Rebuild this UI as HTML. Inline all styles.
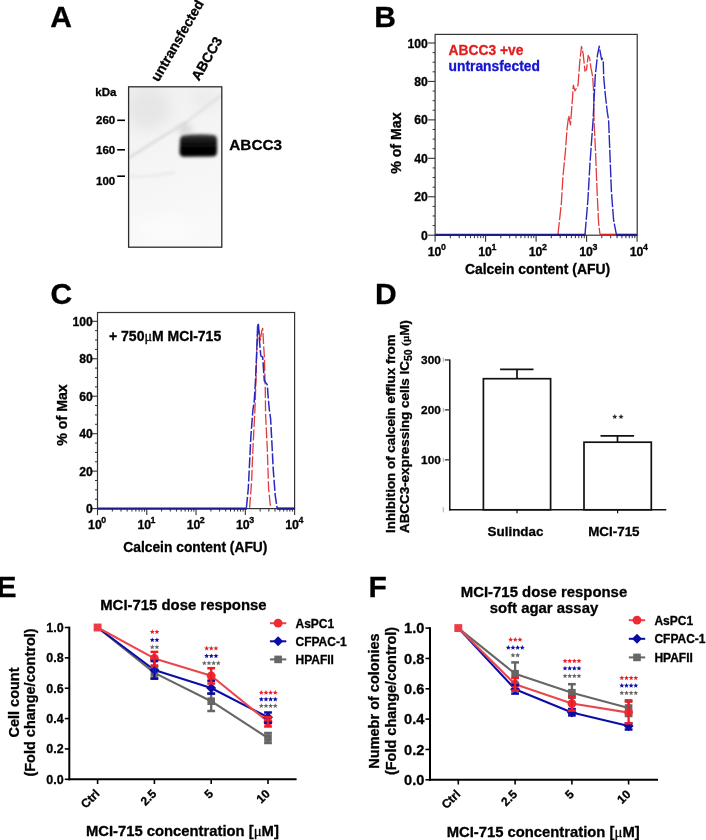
<!DOCTYPE html>
<html><head><meta charset="utf-8"><title>Figure</title>
<style>
html,body{margin:0;padding:0;background:#fff;width:706px;height:840px;overflow:hidden;}
svg{display:block;font-family:"Liberation Sans", sans-serif;will-change:transform;}
</style></head><body>
<svg width="706" height="840" viewBox="0 0 706 840">
<rect width="706" height="840" fill="#fff"/>
<text stroke="#000" stroke-width="0.3" x="50.30" y="27.20" font-size="30" text-anchor="start" fill="#000" font-weight="bold" >A</text>
<text stroke="#000" stroke-width="0.3" x="374.30" y="27.00" font-size="30" text-anchor="start" fill="#000" font-weight="bold" >B</text>
<text stroke="#000" stroke-width="0.3" x="50.50" y="304.30" font-size="30" text-anchor="start" fill="#000" font-weight="bold" >C</text>
<text stroke="#000" stroke-width="0.3" x="375.00" y="303.90" font-size="30" text-anchor="start" fill="#000" font-weight="bold" >D</text>
<text stroke="#000" stroke-width="0.3" x="-3.60" y="597.20" font-size="30" text-anchor="start" fill="#000" font-weight="bold" >E</text>
<text stroke="#000" stroke-width="0.3" x="368.50" y="597.00" font-size="30" text-anchor="start" fill="#000" font-weight="bold" >F</text>
<defs>
<filter id="blur1" x="-30%" y="-30%" width="160%" height="160%"><feGaussianBlur stdDeviation="1.4"/></filter>
<filter id="blur2" x="-50%" y="-50%" width="200%" height="200%"><feGaussianBlur stdDeviation="2"/></filter>
<filter id="blur3" x="-50%" y="-50%" width="200%" height="200%"><feGaussianBlur stdDeviation="3"/></filter>
<filter id="blur6" x="-50%" y="-50%" width="200%" height="200%"><feGaussianBlur stdDeviation="7"/></filter>
<linearGradient id="blotbg" x1="0" y1="0" x2="0.25" y2="1">
<stop offset="0" stop-color="#f0f0f0"/><stop offset="0.4" stop-color="#f4f4f4"/><stop offset="1" stop-color="#f9f9f9"/>
</linearGradient>
<linearGradient id="band" x1="0" y1="0" x2="0" y2="1">
<stop offset="0" stop-color="#454545"/><stop offset="0.22" stop-color="#1c1c1c"/><stop offset="0.5" stop-color="#070707"/><stop offset="1" stop-color="#020202"/>
</linearGradient>
<clipPath id="blotclip"><rect x="129" y="87" width="92.5" height="160"/></clipPath>
</defs>
<rect x="128.6" y="86.8" width="93.2" height="160.4" fill="url(#blotbg)"/>
<g clip-path="url(#blotclip)">
<ellipse cx="148" cy="108" rx="22" ry="22" fill="#e6e6e6" filter="url(#blur6)"/>
<ellipse cx="205" cy="100" rx="14" ry="10" fill="#ebebeb" filter="url(#blur6)"/>
<ellipse cx="165" cy="230" rx="30" ry="14" fill="#fbfbfb" filter="url(#blur6)"/>
<path d="M127,159 C145,148 165,134 186,123" stroke="#cfcfcf" stroke-width="1.8" fill="none" filter="url(#blur1)"/>
<path d="M184,124 C195,116 207,105 222,95" stroke="#dcdcdc" stroke-width="2" fill="none" filter="url(#blur1)"/>
<ellipse cx="185" cy="129" rx="7" ry="5" fill="#d6d6d6" filter="url(#blur3)"/>
<path d="M129,176 C145,178 160,175 175,172" stroke="#e4e4e4" stroke-width="2" fill="none" filter="url(#blur1)"/>
<path d="M183,135.5 Q198,133.5 214,135 Q217,136 217,140 L217,152 Q217,156.5 212,156.5 L184,156.8 Q179.5,156.8 179.5,152 L180,140 Q180.5,136 183,135.5 Z" fill="url(#band)" filter="url(#blur1)"/>
</g>
<rect x="128.6" y="86.8" width="93.2" height="160.4" fill="none" stroke="#2b2b2b" stroke-width="1.3"/>
<text stroke="#000" stroke-width="0.3" x="95.30" y="96.30" font-size="11.5" text-anchor="start" fill="#000" font-weight="bold" >kDa</text>
<text stroke="#000" stroke-width="0.3" x="115.20" y="124.30" font-size="11.5" text-anchor="end" fill="#000" font-weight="bold" >260</text>
<line x1="117.20" y1="120.30" x2="125.00" y2="120.30" stroke="#000" stroke-width="1.6" />
<text stroke="#000" stroke-width="0.3" x="115.20" y="153.80" font-size="11.5" text-anchor="end" fill="#000" font-weight="bold" >160</text>
<line x1="117.20" y1="149.80" x2="125.00" y2="149.80" stroke="#000" stroke-width="1.6" />
<text stroke="#000" stroke-width="0.3" x="115.20" y="185.00" font-size="11.5" text-anchor="end" fill="#000" font-weight="bold" >100</text>
<line x1="117.20" y1="176.20" x2="125.00" y2="176.20" stroke="#000" stroke-width="1.6" />
<text stroke="#000" stroke-width="0.3" x="229.30" y="149.80" font-size="15.3" text-anchor="start" fill="#000" font-weight="bold" >ABCC3</text>
<text stroke="#000" stroke-width="0.3" font-size="13.8" font-weight="bold" fill="#000" transform="translate(158.5,82.5) rotate(-60)">untransfected</text>
<text stroke="#000" stroke-width="0.3" font-size="13.8" font-weight="bold" fill="#000" transform="translate(199,81.5) rotate(-60)">ABCC3</text>
<rect x="435.10" y="34.40" width="202.10" height="200.80" fill="none" stroke="#333" stroke-width="1.2"/>
<line x1="428.10" y1="235.20" x2="435.10" y2="235.20" stroke="#333" stroke-width="1.1" />
<text stroke="#000" stroke-width="0.3" x="427.80" y="239.80" font-size="12.2" text-anchor="end" fill="#000" font-weight="bold" >0</text>
<line x1="432.60" y1="225.59" x2="435.10" y2="225.59" stroke="#333" stroke-width="1" />
<line x1="432.60" y1="215.98" x2="435.10" y2="215.98" stroke="#333" stroke-width="1" />
<line x1="432.60" y1="206.37" x2="435.10" y2="206.37" stroke="#333" stroke-width="1" />
<line x1="428.10" y1="196.76" x2="435.10" y2="196.76" stroke="#333" stroke-width="1.1" />
<text stroke="#000" stroke-width="0.3" x="427.80" y="201.36" font-size="12.2" text-anchor="end" fill="#000" font-weight="bold" >20</text>
<line x1="432.60" y1="187.15" x2="435.10" y2="187.15" stroke="#333" stroke-width="1" />
<line x1="432.60" y1="177.54" x2="435.10" y2="177.54" stroke="#333" stroke-width="1" />
<line x1="432.60" y1="167.93" x2="435.10" y2="167.93" stroke="#333" stroke-width="1" />
<line x1="428.10" y1="158.32" x2="435.10" y2="158.32" stroke="#333" stroke-width="1.1" />
<text stroke="#000" stroke-width="0.3" x="427.80" y="162.92" font-size="12.2" text-anchor="end" fill="#000" font-weight="bold" >40</text>
<line x1="432.60" y1="148.71" x2="435.10" y2="148.71" stroke="#333" stroke-width="1" />
<line x1="432.60" y1="139.10" x2="435.10" y2="139.10" stroke="#333" stroke-width="1" />
<line x1="432.60" y1="129.49" x2="435.10" y2="129.49" stroke="#333" stroke-width="1" />
<line x1="428.10" y1="119.88" x2="435.10" y2="119.88" stroke="#333" stroke-width="1.1" />
<text stroke="#000" stroke-width="0.3" x="427.80" y="124.48" font-size="12.2" text-anchor="end" fill="#000" font-weight="bold" >60</text>
<line x1="432.60" y1="110.27" x2="435.10" y2="110.27" stroke="#333" stroke-width="1" />
<line x1="432.60" y1="100.66" x2="435.10" y2="100.66" stroke="#333" stroke-width="1" />
<line x1="432.60" y1="91.05" x2="435.10" y2="91.05" stroke="#333" stroke-width="1" />
<line x1="428.10" y1="81.44" x2="435.10" y2="81.44" stroke="#333" stroke-width="1.1" />
<text stroke="#000" stroke-width="0.3" x="427.80" y="86.04" font-size="12.2" text-anchor="end" fill="#000" font-weight="bold" >80</text>
<line x1="432.60" y1="71.83" x2="435.10" y2="71.83" stroke="#333" stroke-width="1" />
<line x1="432.60" y1="62.22" x2="435.10" y2="62.22" stroke="#333" stroke-width="1" />
<line x1="432.60" y1="52.61" x2="435.10" y2="52.61" stroke="#333" stroke-width="1" />
<line x1="428.10" y1="43.00" x2="435.10" y2="43.00" stroke="#333" stroke-width="1.1" />
<text stroke="#000" stroke-width="0.3" x="427.80" y="47.60" font-size="12.2" text-anchor="end" fill="#000" font-weight="bold" >100</text>
<line x1="435.10" y1="235.20" x2="435.10" y2="241.70" stroke="#333" stroke-width="1.1" />
<text stroke="#000" stroke-width="0.3" x="427.70" y="255.80" font-size="12.3" text-anchor="start" fill="#000" font-weight="bold" >10</text>
<text stroke="#000" stroke-width="0.3" x="440.90" y="249.80" font-size="8.8" text-anchor="start" fill="#000" font-weight="bold" >0</text>
<line x1="450.30" y1="235.20" x2="450.30" y2="238.20" stroke="#333" stroke-width="1" />
<line x1="459.19" y1="235.20" x2="459.19" y2="238.20" stroke="#333" stroke-width="1" />
<line x1="465.50" y1="235.20" x2="465.50" y2="238.20" stroke="#333" stroke-width="1" />
<line x1="470.40" y1="235.20" x2="470.40" y2="238.20" stroke="#333" stroke-width="1" />
<line x1="474.40" y1="235.20" x2="474.40" y2="238.20" stroke="#333" stroke-width="1" />
<line x1="477.78" y1="235.20" x2="477.78" y2="238.20" stroke="#333" stroke-width="1" />
<line x1="480.71" y1="235.20" x2="480.71" y2="238.20" stroke="#333" stroke-width="1" />
<line x1="483.29" y1="235.20" x2="483.29" y2="238.20" stroke="#333" stroke-width="1" />
<line x1="485.60" y1="235.20" x2="485.60" y2="241.70" stroke="#333" stroke-width="1.1" />
<text stroke="#000" stroke-width="0.3" x="478.20" y="255.80" font-size="12.3" text-anchor="start" fill="#000" font-weight="bold" >10</text>
<text stroke="#000" stroke-width="0.3" x="491.40" y="249.80" font-size="8.8" text-anchor="start" fill="#000" font-weight="bold" >1</text>
<line x1="500.80" y1="235.20" x2="500.80" y2="238.20" stroke="#333" stroke-width="1" />
<line x1="509.69" y1="235.20" x2="509.69" y2="238.20" stroke="#333" stroke-width="1" />
<line x1="516.00" y1="235.20" x2="516.00" y2="238.20" stroke="#333" stroke-width="1" />
<line x1="520.90" y1="235.20" x2="520.90" y2="238.20" stroke="#333" stroke-width="1" />
<line x1="524.90" y1="235.20" x2="524.90" y2="238.20" stroke="#333" stroke-width="1" />
<line x1="528.28" y1="235.20" x2="528.28" y2="238.20" stroke="#333" stroke-width="1" />
<line x1="531.21" y1="235.20" x2="531.21" y2="238.20" stroke="#333" stroke-width="1" />
<line x1="533.79" y1="235.20" x2="533.79" y2="238.20" stroke="#333" stroke-width="1" />
<line x1="536.10" y1="235.20" x2="536.10" y2="241.70" stroke="#333" stroke-width="1.1" />
<text stroke="#000" stroke-width="0.3" x="528.70" y="255.80" font-size="12.3" text-anchor="start" fill="#000" font-weight="bold" >10</text>
<text stroke="#000" stroke-width="0.3" x="541.90" y="249.80" font-size="8.8" text-anchor="start" fill="#000" font-weight="bold" >2</text>
<line x1="551.30" y1="235.20" x2="551.30" y2="238.20" stroke="#333" stroke-width="1" />
<line x1="560.19" y1="235.20" x2="560.19" y2="238.20" stroke="#333" stroke-width="1" />
<line x1="566.50" y1="235.20" x2="566.50" y2="238.20" stroke="#333" stroke-width="1" />
<line x1="571.40" y1="235.20" x2="571.40" y2="238.20" stroke="#333" stroke-width="1" />
<line x1="575.40" y1="235.20" x2="575.40" y2="238.20" stroke="#333" stroke-width="1" />
<line x1="578.78" y1="235.20" x2="578.78" y2="238.20" stroke="#333" stroke-width="1" />
<line x1="581.71" y1="235.20" x2="581.71" y2="238.20" stroke="#333" stroke-width="1" />
<line x1="584.29" y1="235.20" x2="584.29" y2="238.20" stroke="#333" stroke-width="1" />
<line x1="586.60" y1="235.20" x2="586.60" y2="241.70" stroke="#333" stroke-width="1.1" />
<text stroke="#000" stroke-width="0.3" x="579.20" y="255.80" font-size="12.3" text-anchor="start" fill="#000" font-weight="bold" >10</text>
<text stroke="#000" stroke-width="0.3" x="592.40" y="249.80" font-size="8.8" text-anchor="start" fill="#000" font-weight="bold" >3</text>
<line x1="601.80" y1="235.20" x2="601.80" y2="238.20" stroke="#333" stroke-width="1" />
<line x1="610.69" y1="235.20" x2="610.69" y2="238.20" stroke="#333" stroke-width="1" />
<line x1="617.00" y1="235.20" x2="617.00" y2="238.20" stroke="#333" stroke-width="1" />
<line x1="621.90" y1="235.20" x2="621.90" y2="238.20" stroke="#333" stroke-width="1" />
<line x1="625.90" y1="235.20" x2="625.90" y2="238.20" stroke="#333" stroke-width="1" />
<line x1="629.28" y1="235.20" x2="629.28" y2="238.20" stroke="#333" stroke-width="1" />
<line x1="632.21" y1="235.20" x2="632.21" y2="238.20" stroke="#333" stroke-width="1" />
<line x1="634.79" y1="235.20" x2="634.79" y2="238.20" stroke="#333" stroke-width="1" />
<line x1="637.10" y1="235.20" x2="637.10" y2="241.70" stroke="#333" stroke-width="1.1" />
<text stroke="#000" stroke-width="0.3" x="629.70" y="255.80" font-size="12.3" text-anchor="start" fill="#000" font-weight="bold" >10</text>
<text stroke="#000" stroke-width="0.3" x="642.90" y="249.80" font-size="8.8" text-anchor="start" fill="#000" font-weight="bold" >4</text>
<text stroke="#000" stroke-width="0.3" x="465.00" y="274.30" font-size="13.9" text-anchor="start" fill="#000" font-weight="bold" >Calcein content (AFU)</text>
<text stroke="#000" stroke-width="0.3" font-size="14.2" font-weight="bold" text-anchor="middle" transform="translate(401.2,143.1) rotate(-90)">% of Max</text>
<line x1="600.00" y1="234.70" x2="616.40" y2="234.70" stroke="#d02828" stroke-width="2.0" />
<polyline points="557.90,235.00 561.40,202.90 562.90,177.00 565.40,151.40 567.10,128.00 568.80,115.70 570.50,124.90 572.60,96.60 573.30,85.20 575.00,90.90 578.00,85.20 579.70,62.60 581.50,46.30 583.20,54.10 585.00,71.10 586.50,69.70 588.20,55.50 589.60,58.30 591.00,68.20 592.70,76.70 593.50,89.50 594.00,120.00 595.40,148.60 597.10,191.40 598.60,222.90 600.00,234.60" fill="none" stroke="#e43a3a" stroke-width="1.3" stroke-dasharray="13 2" stroke-linejoin="round"/>
<polyline points="585.00,234.60 587.90,200.00 590.00,162.90 593.10,120.00 595.20,76.70 596.70,62.60 597.40,55.50 599.20,46.30 600.60,54.10 601.60,59.70 602.30,58.30 603.30,62.60 603.70,76.70 605.20,93.70 607.30,112.20 608.60,120.00 610.00,155.70 611.40,191.40 613.60,220.00 616.40,234.60" fill="none" stroke="#2828c0" stroke-width="1.4" stroke-dasharray="13 1.8" stroke-linejoin="round"/>
<line x1="435.10" y1="234.90" x2="585.50" y2="234.90" stroke="#1c1c8c" stroke-width="2.4" />
<line x1="616.00" y1="234.90" x2="637.20" y2="234.90" stroke="#1c1c8c" stroke-width="2.4" />
<text stroke="#e01e1e" stroke-width="0.3" x="448.60" y="55.20" font-size="13.8" text-anchor="start" fill="#e01e1e" font-weight="bold" >ABCC3 +ve</text>
<text stroke="#1414d2" stroke-width="0.3" x="448.60" y="71.00" font-size="13.8" text-anchor="start" fill="#1414d2" font-weight="bold" >untransfected</text>
<rect x="97.50" y="312.50" width="197.10" height="196.10" fill="none" stroke="#333" stroke-width="1.2"/>
<line x1="90.50" y1="508.60" x2="97.50" y2="508.60" stroke="#333" stroke-width="1.1" />
<text stroke="#000" stroke-width="0.3" x="92.80" y="513.20" font-size="12.2" text-anchor="end" fill="#000" font-weight="bold" >0</text>
<line x1="95.00" y1="499.24" x2="97.50" y2="499.24" stroke="#333" stroke-width="1" />
<line x1="95.00" y1="489.87" x2="97.50" y2="489.87" stroke="#333" stroke-width="1" />
<line x1="95.00" y1="480.50" x2="97.50" y2="480.50" stroke="#333" stroke-width="1" />
<line x1="90.50" y1="471.14" x2="97.50" y2="471.14" stroke="#333" stroke-width="1.1" />
<text stroke="#000" stroke-width="0.3" x="92.80" y="475.74" font-size="12.2" text-anchor="end" fill="#000" font-weight="bold" >20</text>
<line x1="95.00" y1="461.78" x2="97.50" y2="461.78" stroke="#333" stroke-width="1" />
<line x1="95.00" y1="452.41" x2="97.50" y2="452.41" stroke="#333" stroke-width="1" />
<line x1="95.00" y1="443.05" x2="97.50" y2="443.05" stroke="#333" stroke-width="1" />
<line x1="90.50" y1="433.68" x2="97.50" y2="433.68" stroke="#333" stroke-width="1.1" />
<text stroke="#000" stroke-width="0.3" x="92.80" y="438.28" font-size="12.2" text-anchor="end" fill="#000" font-weight="bold" >40</text>
<line x1="95.00" y1="424.31" x2="97.50" y2="424.31" stroke="#333" stroke-width="1" />
<line x1="95.00" y1="414.95" x2="97.50" y2="414.95" stroke="#333" stroke-width="1" />
<line x1="95.00" y1="405.59" x2="97.50" y2="405.59" stroke="#333" stroke-width="1" />
<line x1="90.50" y1="396.22" x2="97.50" y2="396.22" stroke="#333" stroke-width="1.1" />
<text stroke="#000" stroke-width="0.3" x="92.80" y="400.82" font-size="12.2" text-anchor="end" fill="#000" font-weight="bold" >60</text>
<line x1="95.00" y1="386.86" x2="97.50" y2="386.86" stroke="#333" stroke-width="1" />
<line x1="95.00" y1="377.49" x2="97.50" y2="377.49" stroke="#333" stroke-width="1" />
<line x1="95.00" y1="368.12" x2="97.50" y2="368.12" stroke="#333" stroke-width="1" />
<line x1="90.50" y1="358.76" x2="97.50" y2="358.76" stroke="#333" stroke-width="1.1" />
<text stroke="#000" stroke-width="0.3" x="92.80" y="363.36" font-size="12.2" text-anchor="end" fill="#000" font-weight="bold" >80</text>
<line x1="95.00" y1="349.39" x2="97.50" y2="349.39" stroke="#333" stroke-width="1" />
<line x1="95.00" y1="340.03" x2="97.50" y2="340.03" stroke="#333" stroke-width="1" />
<line x1="95.00" y1="330.66" x2="97.50" y2="330.66" stroke="#333" stroke-width="1" />
<line x1="90.50" y1="321.30" x2="97.50" y2="321.30" stroke="#333" stroke-width="1.1" />
<text stroke="#000" stroke-width="0.3" x="92.80" y="325.90" font-size="12.2" text-anchor="end" fill="#000" font-weight="bold" >100</text>
<line x1="97.50" y1="508.60" x2="97.50" y2="515.10" stroke="#333" stroke-width="1.1" />
<text stroke="#000" stroke-width="0.3" x="88.10" y="529.20" font-size="12.3" text-anchor="start" fill="#000" font-weight="bold" >10</text>
<text stroke="#000" stroke-width="0.3" x="101.30" y="523.20" font-size="8.8" text-anchor="start" fill="#000" font-weight="bold" >0</text>
<line x1="112.33" y1="508.60" x2="112.33" y2="511.60" stroke="#333" stroke-width="1" />
<line x1="121.01" y1="508.60" x2="121.01" y2="511.60" stroke="#333" stroke-width="1" />
<line x1="127.17" y1="508.60" x2="127.17" y2="511.60" stroke="#333" stroke-width="1" />
<line x1="131.95" y1="508.60" x2="131.95" y2="511.60" stroke="#333" stroke-width="1" />
<line x1="135.85" y1="508.60" x2="135.85" y2="511.60" stroke="#333" stroke-width="1" />
<line x1="139.15" y1="508.60" x2="139.15" y2="511.60" stroke="#333" stroke-width="1" />
<line x1="142.00" y1="508.60" x2="142.00" y2="511.60" stroke="#333" stroke-width="1" />
<line x1="144.53" y1="508.60" x2="144.53" y2="511.60" stroke="#333" stroke-width="1" />
<line x1="146.78" y1="508.60" x2="146.78" y2="515.10" stroke="#333" stroke-width="1.1" />
<text stroke="#000" stroke-width="0.3" x="137.38" y="529.20" font-size="12.3" text-anchor="start" fill="#000" font-weight="bold" >10</text>
<text stroke="#000" stroke-width="0.3" x="150.58" y="523.20" font-size="8.8" text-anchor="start" fill="#000" font-weight="bold" >1</text>
<line x1="161.61" y1="508.60" x2="161.61" y2="511.60" stroke="#333" stroke-width="1" />
<line x1="170.29" y1="508.60" x2="170.29" y2="511.60" stroke="#333" stroke-width="1" />
<line x1="176.45" y1="508.60" x2="176.45" y2="511.60" stroke="#333" stroke-width="1" />
<line x1="181.23" y1="508.60" x2="181.23" y2="511.60" stroke="#333" stroke-width="1" />
<line x1="185.13" y1="508.60" x2="185.13" y2="511.60" stroke="#333" stroke-width="1" />
<line x1="188.43" y1="508.60" x2="188.43" y2="511.60" stroke="#333" stroke-width="1" />
<line x1="191.28" y1="508.60" x2="191.28" y2="511.60" stroke="#333" stroke-width="1" />
<line x1="193.81" y1="508.60" x2="193.81" y2="511.60" stroke="#333" stroke-width="1" />
<line x1="196.06" y1="508.60" x2="196.06" y2="515.10" stroke="#333" stroke-width="1.1" />
<text stroke="#000" stroke-width="0.3" x="186.66" y="529.20" font-size="12.3" text-anchor="start" fill="#000" font-weight="bold" >10</text>
<text stroke="#000" stroke-width="0.3" x="199.86" y="523.20" font-size="8.8" text-anchor="start" fill="#000" font-weight="bold" >2</text>
<line x1="210.89" y1="508.60" x2="210.89" y2="511.60" stroke="#333" stroke-width="1" />
<line x1="219.57" y1="508.60" x2="219.57" y2="511.60" stroke="#333" stroke-width="1" />
<line x1="225.73" y1="508.60" x2="225.73" y2="511.60" stroke="#333" stroke-width="1" />
<line x1="230.51" y1="508.60" x2="230.51" y2="511.60" stroke="#333" stroke-width="1" />
<line x1="234.41" y1="508.60" x2="234.41" y2="511.60" stroke="#333" stroke-width="1" />
<line x1="237.71" y1="508.60" x2="237.71" y2="511.60" stroke="#333" stroke-width="1" />
<line x1="240.56" y1="508.60" x2="240.56" y2="511.60" stroke="#333" stroke-width="1" />
<line x1="243.09" y1="508.60" x2="243.09" y2="511.60" stroke="#333" stroke-width="1" />
<line x1="245.34" y1="508.60" x2="245.34" y2="515.10" stroke="#333" stroke-width="1.1" />
<text stroke="#000" stroke-width="0.3" x="235.94" y="529.20" font-size="12.3" text-anchor="start" fill="#000" font-weight="bold" >10</text>
<text stroke="#000" stroke-width="0.3" x="249.14" y="523.20" font-size="8.8" text-anchor="start" fill="#000" font-weight="bold" >3</text>
<line x1="260.17" y1="508.60" x2="260.17" y2="511.60" stroke="#333" stroke-width="1" />
<line x1="268.85" y1="508.60" x2="268.85" y2="511.60" stroke="#333" stroke-width="1" />
<line x1="275.01" y1="508.60" x2="275.01" y2="511.60" stroke="#333" stroke-width="1" />
<line x1="279.79" y1="508.60" x2="279.79" y2="511.60" stroke="#333" stroke-width="1" />
<line x1="283.69" y1="508.60" x2="283.69" y2="511.60" stroke="#333" stroke-width="1" />
<line x1="286.99" y1="508.60" x2="286.99" y2="511.60" stroke="#333" stroke-width="1" />
<line x1="289.84" y1="508.60" x2="289.84" y2="511.60" stroke="#333" stroke-width="1" />
<line x1="292.37" y1="508.60" x2="292.37" y2="511.60" stroke="#333" stroke-width="1" />
<line x1="294.62" y1="508.60" x2="294.62" y2="515.10" stroke="#333" stroke-width="1.1" />
<text stroke="#000" stroke-width="0.3" x="285.22" y="529.20" font-size="12.3" text-anchor="start" fill="#000" font-weight="bold" >10</text>
<text stroke="#000" stroke-width="0.3" x="298.42" y="523.20" font-size="8.8" text-anchor="start" fill="#000" font-weight="bold" >4</text>
<text stroke="#000" stroke-width="0.3" x="123.30" y="551.50" font-size="13.8" text-anchor="start" fill="#000" font-weight="bold" >Calcein content (AFU)</text>
<text stroke="#000" stroke-width="0.3" font-size="14.2" font-weight="bold" text-anchor="middle" transform="translate(66.8,415) rotate(-90)">% of Max</text>
<polyline points="249.60,507.80 251.60,482.00 252.90,449.30 254.90,410.00 256.00,380.00 256.80,349.30 258.10,324.40 259.50,335.00 260.50,340.00 261.50,332.00 262.70,328.30 263.80,348.00 264.30,355.80 264.70,367.60 265.30,391.20 265.60,414.70 267.30,449.30 268.60,488.50 270.60,507.80" fill="none" stroke="#e43a3a" stroke-width="1.3" stroke-dasharray="11 2.5" stroke-linejoin="round"/>
<polyline points="246.40,507.80 248.30,488.50 249.60,462.40 250.90,436.20 252.90,410.00 254.20,401.60 255.50,380.70 256.80,349.30 257.70,323.70 258.50,325.00 259.50,341.40 260.80,355.80 262.70,357.10 264.30,380.70 267.30,384.60 268.00,395.00 269.30,409.50 270.60,418.60 271.90,442.70 273.20,468.90 275.20,495.10 277.10,507.80" fill="none" stroke="#2828c0" stroke-width="1.5" stroke-dasharray="11 2.2" stroke-linejoin="round"/>
<line x1="97.50" y1="508.60" x2="246.80" y2="508.60" stroke="#1c1c8c" stroke-width="2.4" />
<line x1="276.80" y1="508.60" x2="294.60" y2="508.60" stroke="#1c1c8c" stroke-width="2.4" />
<text stroke="#000" stroke-width="0.3" x="109.00" y="340.80" font-size="14" text-anchor="start" fill="#000" font-weight="bold" >+ 750<tspan font-family="Liberation Serif" font-weight="normal">μ</tspan>M MCI-715</text>
<line x1="449.80" y1="359.50" x2="449.80" y2="510.50" stroke="#111" stroke-width="1.5" />
<line x1="449.10" y1="509.80" x2="666.30" y2="509.80" stroke="#111" stroke-width="1.5" />
<line x1="444.80" y1="459.85" x2="449.80" y2="459.85" stroke="#333" stroke-width="1.3" />
<text stroke="#000" stroke-width="0.3" x="440.80" y="464.15" font-size="11.8" text-anchor="end" fill="#000" font-weight="bold" >100</text>
<line x1="443.30" y1="457.65" x2="443.30" y2="462.05" stroke="#999" stroke-width="0.8" />
<line x1="444.80" y1="409.90" x2="449.80" y2="409.90" stroke="#333" stroke-width="1.3" />
<text stroke="#000" stroke-width="0.3" x="440.80" y="414.20" font-size="11.8" text-anchor="end" fill="#000" font-weight="bold" >200</text>
<line x1="443.30" y1="407.70" x2="443.30" y2="412.10" stroke="#999" stroke-width="0.8" />
<line x1="444.80" y1="359.95" x2="449.80" y2="359.95" stroke="#333" stroke-width="1.3" />
<text stroke="#000" stroke-width="0.3" x="440.80" y="364.25" font-size="11.8" text-anchor="end" fill="#000" font-weight="bold" >300</text>
<line x1="443.30" y1="357.75" x2="443.30" y2="362.15" stroke="#999" stroke-width="0.8" />
<line x1="443.30" y1="507.20" x2="443.30" y2="512.40" stroke="#999" stroke-width="0.8" />
<rect x="483.4" y="378.7" width="67.2" height="131.10" fill="#fff" stroke="#111" stroke-width="1.7"/>
<rect x="584" y="442.2" width="67.3" height="67.60" fill="#fff" stroke="#111" stroke-width="1.7"/>
<line x1="517.00" y1="369.30" x2="517.00" y2="378.70" stroke="#111" stroke-width="1.7" />
<line x1="500.10" y1="369.30" x2="533.50" y2="369.30" stroke="#111" stroke-width="1.8" />
<line x1="617.50" y1="435.80" x2="617.50" y2="442.20" stroke="#111" stroke-width="1.7" />
<line x1="600.50" y1="435.80" x2="634.10" y2="435.80" stroke="#111" stroke-width="1.8" />
<line x1="517.00" y1="509.80" x2="517.00" y2="513.30" stroke="#111" stroke-width="1.2" />
<line x1="617.60" y1="509.80" x2="617.60" y2="513.30" stroke="#111" stroke-width="1.2" />
<polygon points="614.75,414.10 615.46,415.82 617.32,415.97 615.91,417.18 616.34,418.98 614.75,418.01 613.16,418.98 613.59,417.18 612.18,415.97 614.04,415.82" fill="#2a2a2a"/>
<polygon points="621.05,414.10 621.76,415.82 623.62,415.97 622.21,417.18 622.64,418.98 621.05,418.01 619.46,418.98 619.89,417.18 618.48,415.97 620.34,415.82" fill="#2a2a2a"/>
<text stroke="#000" stroke-width="0.3" x="487.60" y="535.80" font-size="13.4" text-anchor="start" fill="#000" font-weight="bold" >Sulindac</text>
<text stroke="#000" stroke-width="0.3" x="588.20" y="535.80" font-size="13.4" text-anchor="start" fill="#000" font-weight="bold" >MCI-715</text>
<text stroke="#000" stroke-width="0.3" font-size="13.4" font-weight="bold" transform="translate(394.6,533) rotate(-90)">Inhibition of calcein efflux from</text>
<text stroke="#000" stroke-width="0.3" font-size="13.4" font-weight="bold" transform="translate(408.6,533) rotate(-90)">ABCC3-expressing cells IC<tspan font-size="10.5" dy="3.3">50</tspan><tspan dy="-3.3"> </tspan><tspan font-size="11" font-family="Liberation Serif">(μ</tspan>M)</text>
<line x1="69.30" y1="626.70" x2="69.30" y2="780.30" stroke="#000" stroke-width="2" />
<line x1="68.30" y1="779.30" x2="296.60" y2="779.30" stroke="#000" stroke-width="2" />
<line x1="64.80" y1="779.30" x2="69.30" y2="779.30" stroke="#000" stroke-width="1.6" />
<text stroke="#000" stroke-width="0.3" x="63.70" y="783.80" font-size="12.5" text-anchor="end" fill="#000" font-weight="bold" >0.0</text>
<line x1="64.80" y1="748.94" x2="69.30" y2="748.94" stroke="#000" stroke-width="1.6" />
<text stroke="#000" stroke-width="0.3" x="63.70" y="753.44" font-size="12.5" text-anchor="end" fill="#000" font-weight="bold" >0.2</text>
<line x1="64.80" y1="718.58" x2="69.30" y2="718.58" stroke="#000" stroke-width="1.6" />
<text stroke="#000" stroke-width="0.3" x="63.70" y="723.08" font-size="12.5" text-anchor="end" fill="#000" font-weight="bold" >0.4</text>
<line x1="64.80" y1="688.22" x2="69.30" y2="688.22" stroke="#000" stroke-width="1.6" />
<text stroke="#000" stroke-width="0.3" x="63.70" y="692.72" font-size="12.5" text-anchor="end" fill="#000" font-weight="bold" >0.6</text>
<line x1="64.80" y1="657.86" x2="69.30" y2="657.86" stroke="#000" stroke-width="1.6" />
<text stroke="#000" stroke-width="0.3" x="63.70" y="662.36" font-size="12.5" text-anchor="end" fill="#000" font-weight="bold" >0.8</text>
<line x1="64.80" y1="627.50" x2="69.30" y2="627.50" stroke="#000" stroke-width="1.6" />
<text stroke="#000" stroke-width="0.3" x="63.70" y="632.00" font-size="12.5" text-anchor="end" fill="#000" font-weight="bold" >1.0</text>
<line x1="97.60" y1="779.30" x2="97.60" y2="784.00" stroke="#000" stroke-width="1.6" />
<line x1="154.40" y1="779.30" x2="154.40" y2="784.00" stroke="#000" stroke-width="1.6" />
<line x1="211.20" y1="779.30" x2="211.20" y2="784.00" stroke="#000" stroke-width="1.6" />
<line x1="268.00" y1="779.30" x2="268.00" y2="784.00" stroke="#000" stroke-width="1.6" />
<text stroke="#000" stroke-width="0.3" font-size="12" font-weight="bold" text-anchor="end" transform="translate(100.40,794.50) rotate(-45)">Ctrl</text>
<text stroke="#000" stroke-width="0.3" font-size="12" font-weight="bold" text-anchor="end" transform="translate(157.20,794.50) rotate(-45)">2.5</text>
<text stroke="#000" stroke-width="0.3" font-size="12" font-weight="bold" text-anchor="end" transform="translate(214.00,794.50) rotate(-45)">5</text>
<text stroke="#000" stroke-width="0.3" font-size="12" font-weight="bold" text-anchor="end" transform="translate(270.80,794.50) rotate(-45)">10</text>
<polyline points="97.60,627.50 154.40,672.90 211.20,701.20 268.00,738.00" fill="none" stroke="#666666" stroke-width="2.1" stroke-linejoin="round"/>
<polyline points="97.60,627.50 154.40,670.00 211.20,688.00 268.00,717.30" fill="none" stroke="#0c0ca6" stroke-width="2.1" stroke-linejoin="round"/>
<polyline points="97.60,627.50 154.40,658.40 211.20,675.80 268.00,721.80" fill="none" stroke="#e8474d" stroke-width="2.1" stroke-linejoin="round"/>
<rect x="150.60" y="669.10" width="7.60" height="7.60" fill="#666666"/>
<rect x="207.40" y="697.40" width="7.60" height="7.60" fill="#666666"/>
<rect x="264.20" y="734.20" width="7.60" height="7.60" fill="#666666"/>
<polygon points="154.40,665.00 159.40,670.00 154.40,675.00 149.40,670.00" fill="#0c0ca6"/>
<polygon points="211.20,683.00 216.20,688.00 211.20,693.00 206.20,688.00" fill="#0c0ca6"/>
<polygon points="268.00,712.30 273.00,717.30 268.00,722.30 263.00,717.30" fill="#0c0ca6"/>
<circle cx="154.40" cy="658.40" r="4.4" fill="#ee2a33"/>
<circle cx="211.20" cy="675.80" r="4.4" fill="#ee2a33"/>
<circle cx="268.00" cy="721.80" r="4.4" fill="#ee2a33"/>
<line x1="154.40" y1="667.00" x2="154.40" y2="678.00" stroke="#666666" stroke-width="2.3" />
<line x1="150.50" y1="667.00" x2="158.30" y2="667.00" stroke="#666666" stroke-width="2.5" />
<line x1="150.50" y1="678.00" x2="158.30" y2="678.00" stroke="#666666" stroke-width="2.5" />
<line x1="211.20" y1="693.60" x2="211.20" y2="711.00" stroke="#666666" stroke-width="2.3" />
<line x1="207.30" y1="693.60" x2="215.10" y2="693.60" stroke="#666666" stroke-width="2.5" />
<line x1="207.30" y1="711.00" x2="215.10" y2="711.00" stroke="#666666" stroke-width="2.5" />
<line x1="268.00" y1="733.00" x2="268.00" y2="743.00" stroke="#666666" stroke-width="2.3" />
<line x1="264.10" y1="733.00" x2="271.90" y2="733.00" stroke="#666666" stroke-width="2.5" />
<line x1="264.10" y1="743.00" x2="271.90" y2="743.00" stroke="#666666" stroke-width="2.5" />
<line x1="154.40" y1="661.00" x2="154.40" y2="678.70" stroke="#0c0ca6" stroke-width="2.3" />
<line x1="150.50" y1="661.00" x2="158.30" y2="661.00" stroke="#0c0ca6" stroke-width="2.5" />
<line x1="150.50" y1="678.70" x2="158.30" y2="678.70" stroke="#0c0ca6" stroke-width="2.5" />
<line x1="211.20" y1="680.70" x2="211.20" y2="693.60" stroke="#0c0ca6" stroke-width="2.3" />
<line x1="207.30" y1="680.70" x2="215.10" y2="680.70" stroke="#0c0ca6" stroke-width="2.5" />
<line x1="207.30" y1="693.60" x2="215.10" y2="693.60" stroke="#0c0ca6" stroke-width="2.5" />
<line x1="268.00" y1="712.50" x2="268.00" y2="722.70" stroke="#0c0ca6" stroke-width="2.3" />
<line x1="264.10" y1="712.50" x2="271.90" y2="712.50" stroke="#0c0ca6" stroke-width="2.5" />
<line x1="264.10" y1="722.70" x2="271.90" y2="722.70" stroke="#0c0ca6" stroke-width="2.5" />
<line x1="154.40" y1="651.90" x2="154.40" y2="665.50" stroke="#ef1c26" stroke-width="2.3" />
<line x1="150.50" y1="651.90" x2="158.30" y2="651.90" stroke="#ef1c26" stroke-width="2.5" />
<line x1="150.50" y1="665.50" x2="158.30" y2="665.50" stroke="#ef1c26" stroke-width="2.5" />
<line x1="211.20" y1="668.20" x2="211.20" y2="683.50" stroke="#ef1c26" stroke-width="2.3" />
<line x1="207.30" y1="668.20" x2="215.10" y2="668.20" stroke="#ef1c26" stroke-width="2.5" />
<line x1="207.30" y1="683.50" x2="215.10" y2="683.50" stroke="#ef1c26" stroke-width="2.5" />
<line x1="268.00" y1="717.00" x2="268.00" y2="726.50" stroke="#ef1c26" stroke-width="2.3" />
<line x1="264.10" y1="717.00" x2="271.90" y2="717.00" stroke="#ef1c26" stroke-width="2.5" />
<line x1="264.10" y1="726.50" x2="271.90" y2="726.50" stroke="#ef1c26" stroke-width="2.5" />
<rect x="93.65" y="623.55" width="7.9" height="7.9" fill="#ec3d46"/>
<line x1="269.90" y1="623.20" x2="286.30" y2="623.20" stroke="#e8474d" stroke-width="2" />
<circle cx="278.10" cy="623.20" r="4.4" fill="#ee2a33"/>
<text stroke="#000" stroke-width="0.3" x="295.50" y="627.50" font-size="12" text-anchor="start" fill="#000" font-weight="bold" >AsPC1</text>
<line x1="269.90" y1="641.30" x2="286.30" y2="641.30" stroke="#0c0ca6" stroke-width="2" />
<polygon points="278.10,636.30 283.10,641.30 278.10,646.30 273.10,641.30" fill="#0c0ca6"/>
<text stroke="#000" stroke-width="0.3" x="295.50" y="645.60" font-size="12" text-anchor="start" fill="#000" font-weight="bold" >CFPAC-1</text>
<line x1="269.90" y1="659.40" x2="286.30" y2="659.40" stroke="#666666" stroke-width="2" />
<rect x="274.30" y="655.60" width="7.60" height="7.60" fill="#666666"/>
<text stroke="#000" stroke-width="0.3" x="295.50" y="663.70" font-size="12" text-anchor="start" fill="#000" font-weight="bold" >HPAFII</text>
<text stroke="#000" stroke-width="0.3" x="183.40" y="609.60" font-size="14.9" text-anchor="middle" fill="#000" font-weight="bold" >MCI-715 dose response</text>
<text stroke="#000" stroke-width="0.3" x="182.40" y="836.40" font-size="14.8" text-anchor="middle" fill="#000" font-weight="bold" >MCI-715 concentration [<tspan font-family="Liberation Serif" font-weight="normal">μ</tspan>M]</text>
<text stroke="#000" stroke-width="0.3" font-size="14.5" font-weight="bold" text-anchor="middle" transform="translate(18.6,702.5) rotate(-90)">Cell count</text>
<text stroke="#000" stroke-width="0.3" font-size="14.5" font-weight="bold" text-anchor="middle" transform="translate(34.6,702.5) rotate(-90)">(Fold change/control)</text>
<polygon points="152.28,629.30 152.96,630.95 154.75,631.10 153.39,632.26 153.80,634.00 152.28,633.07 150.75,634.00 151.16,632.26 149.80,631.10 151.59,630.95" fill="#ef1c26"/>
<polygon points="156.93,629.30 157.61,630.95 159.40,631.10 158.04,632.26 158.45,634.00 156.93,633.07 155.40,634.00 155.81,632.26 154.45,631.10 156.24,630.95" fill="#ef1c26"/>
<polygon points="152.28,637.40 152.96,639.05 154.75,639.20 153.39,640.36 153.80,642.10 152.28,641.17 150.75,642.10 151.16,640.36 149.80,639.20 151.59,639.05" fill="#0c0ca6"/>
<polygon points="156.93,637.40 157.61,639.05 159.40,639.20 158.04,640.36 158.45,642.10 156.93,641.17 155.40,642.10 155.81,640.36 154.45,639.20 156.24,639.05" fill="#0c0ca6"/>
<polygon points="152.28,644.50 152.96,646.15 154.75,646.30 153.39,647.46 153.80,649.20 152.28,648.27 150.75,649.20 151.16,647.46 149.80,646.30 151.59,646.15" fill="#666666"/>
<polygon points="156.93,644.50 157.61,646.15 159.40,646.30 158.04,647.46 158.45,649.20 156.93,648.27 155.40,649.20 155.81,647.46 154.45,646.30 156.24,646.15" fill="#666666"/>
<polygon points="206.65,645.80 207.34,647.45 209.12,647.60 207.76,648.76 208.18,650.50 206.65,649.57 205.12,650.50 205.54,648.76 204.18,647.60 205.96,647.45" fill="#ef1c26"/>
<polygon points="211.30,645.80 211.99,647.45 213.77,647.60 212.41,648.76 212.83,650.50 211.30,649.57 209.77,650.50 210.19,648.76 208.83,647.60 210.61,647.45" fill="#ef1c26"/>
<polygon points="215.95,645.80 216.64,647.45 218.42,647.60 217.06,648.76 217.48,650.50 215.95,649.57 214.42,650.50 214.84,648.76 213.48,647.60 215.26,647.45" fill="#ef1c26"/>
<polygon points="206.65,653.40 207.34,655.05 209.12,655.20 207.76,656.36 208.18,658.10 206.65,657.17 205.12,658.10 205.54,656.36 204.18,655.20 205.96,655.05" fill="#0c0ca6"/>
<polygon points="211.30,653.40 211.99,655.05 213.77,655.20 212.41,656.36 212.83,658.10 211.30,657.17 209.77,658.10 210.19,656.36 208.83,655.20 210.61,655.05" fill="#0c0ca6"/>
<polygon points="215.95,653.40 216.64,655.05 218.42,655.20 217.06,656.36 217.48,658.10 215.95,657.17 214.42,658.10 214.84,656.36 213.48,655.20 215.26,655.05" fill="#0c0ca6"/>
<polygon points="204.33,660.60 205.01,662.25 206.80,662.40 205.44,663.56 205.85,665.30 204.33,664.37 202.80,665.30 203.21,663.56 201.85,662.40 203.64,662.25" fill="#666666"/>
<polygon points="208.98,660.60 209.66,662.25 211.45,662.40 210.09,663.56 210.50,665.30 208.98,664.37 207.45,665.30 207.86,663.56 206.50,662.40 208.29,662.25" fill="#666666"/>
<polygon points="213.63,660.60 214.31,662.25 216.10,662.40 214.74,663.56 215.15,665.30 213.63,664.37 212.10,665.30 212.51,663.56 211.15,662.40 212.94,662.25" fill="#666666"/>
<polygon points="218.28,660.60 218.96,662.25 220.75,662.40 219.39,663.56 219.80,665.30 218.28,664.37 216.75,665.30 217.16,663.56 215.80,662.40 217.59,662.25" fill="#666666"/>
<polygon points="261.32,690.10 262.01,691.75 263.80,691.90 262.44,693.06 262.85,694.80 261.32,693.87 259.80,694.80 260.21,693.06 258.85,691.90 260.64,691.75" fill="#ef1c26"/>
<polygon points="265.97,690.10 266.66,691.75 268.45,691.90 267.09,693.06 267.50,694.80 265.97,693.87 264.45,694.80 264.86,693.06 263.50,691.90 265.29,691.75" fill="#ef1c26"/>
<polygon points="270.62,690.10 271.31,691.75 273.10,691.90 271.74,693.06 272.15,694.80 270.62,693.87 269.10,694.80 269.51,693.06 268.15,691.90 269.94,691.75" fill="#ef1c26"/>
<polygon points="275.27,690.10 275.96,691.75 277.75,691.90 276.39,693.06 276.80,694.80 275.27,693.87 273.75,694.80 274.16,693.06 272.80,691.90 274.59,691.75" fill="#ef1c26"/>
<polygon points="261.32,696.70 262.01,698.35 263.80,698.50 262.44,699.66 262.85,701.40 261.32,700.47 259.80,701.40 260.21,699.66 258.85,698.50 260.64,698.35" fill="#0c0ca6"/>
<polygon points="265.97,696.70 266.66,698.35 268.45,698.50 267.09,699.66 267.50,701.40 265.97,700.47 264.45,701.40 264.86,699.66 263.50,698.50 265.29,698.35" fill="#0c0ca6"/>
<polygon points="270.62,696.70 271.31,698.35 273.10,698.50 271.74,699.66 272.15,701.40 270.62,700.47 269.10,701.40 269.51,699.66 268.15,698.50 269.94,698.35" fill="#0c0ca6"/>
<polygon points="275.27,696.70 275.96,698.35 277.75,698.50 276.39,699.66 276.80,701.40 275.27,700.47 273.75,701.40 274.16,699.66 272.80,698.50 274.59,698.35" fill="#0c0ca6"/>
<polygon points="261.32,703.30 262.01,704.95 263.80,705.10 262.44,706.26 262.85,708.00 261.32,707.07 259.80,708.00 260.21,706.26 258.85,705.10 260.64,704.95" fill="#666666"/>
<polygon points="265.97,703.30 266.66,704.95 268.45,705.10 267.09,706.26 267.50,708.00 265.97,707.07 264.45,708.00 264.86,706.26 263.50,705.10 265.29,704.95" fill="#666666"/>
<polygon points="270.62,703.30 271.31,704.95 273.10,705.10 271.74,706.26 272.15,708.00 270.62,707.07 269.10,708.00 269.51,706.26 268.15,705.10 269.94,704.95" fill="#666666"/>
<polygon points="275.27,703.30 275.96,704.95 277.75,705.10 276.39,706.26 276.80,708.00 275.27,707.07 273.75,708.00 274.16,706.26 272.80,705.10 274.59,704.95" fill="#666666"/>
<line x1="430.00" y1="627.30" x2="430.00" y2="780.80" stroke="#000" stroke-width="2" />
<line x1="429.00" y1="779.80" x2="658.00" y2="779.80" stroke="#000" stroke-width="2" />
<line x1="425.50" y1="779.80" x2="430.00" y2="779.80" stroke="#000" stroke-width="1.6" />
<text stroke="#000" stroke-width="0.3" x="424.40" y="785.06" font-size="14.6" text-anchor="end" fill="#000" font-weight="bold" >0.0</text>
<line x1="425.50" y1="749.46" x2="430.00" y2="749.46" stroke="#000" stroke-width="1.6" />
<text stroke="#000" stroke-width="0.3" x="424.40" y="754.72" font-size="14.6" text-anchor="end" fill="#000" font-weight="bold" >0.2</text>
<line x1="425.50" y1="719.12" x2="430.00" y2="719.12" stroke="#000" stroke-width="1.6" />
<text stroke="#000" stroke-width="0.3" x="424.40" y="724.38" font-size="14.6" text-anchor="end" fill="#000" font-weight="bold" >0.4</text>
<line x1="425.50" y1="688.78" x2="430.00" y2="688.78" stroke="#000" stroke-width="1.6" />
<text stroke="#000" stroke-width="0.3" x="424.40" y="694.04" font-size="14.6" text-anchor="end" fill="#000" font-weight="bold" >0.6</text>
<line x1="425.50" y1="658.44" x2="430.00" y2="658.44" stroke="#000" stroke-width="1.6" />
<text stroke="#000" stroke-width="0.3" x="424.40" y="663.70" font-size="14.6" text-anchor="end" fill="#000" font-weight="bold" >0.8</text>
<line x1="425.50" y1="628.10" x2="430.00" y2="628.10" stroke="#000" stroke-width="1.6" />
<text stroke="#000" stroke-width="0.3" x="424.40" y="633.36" font-size="14.6" text-anchor="end" fill="#000" font-weight="bold" >1.0</text>
<line x1="458.30" y1="779.80" x2="458.30" y2="784.50" stroke="#000" stroke-width="1.6" />
<line x1="515.10" y1="779.80" x2="515.10" y2="784.50" stroke="#000" stroke-width="1.6" />
<line x1="571.90" y1="779.80" x2="571.90" y2="784.50" stroke="#000" stroke-width="1.6" />
<line x1="628.60" y1="779.80" x2="628.60" y2="784.50" stroke="#000" stroke-width="1.6" />
<text stroke="#000" stroke-width="0.3" font-size="12" font-weight="bold" text-anchor="end" transform="translate(461.10,795.00) rotate(-45)">Ctrl</text>
<text stroke="#000" stroke-width="0.3" font-size="12" font-weight="bold" text-anchor="end" transform="translate(517.90,795.00) rotate(-45)">2.5</text>
<text stroke="#000" stroke-width="0.3" font-size="12" font-weight="bold" text-anchor="end" transform="translate(574.70,795.00) rotate(-45)">5</text>
<text stroke="#000" stroke-width="0.3" font-size="12" font-weight="bold" text-anchor="end" transform="translate(631.40,795.00) rotate(-45)">10</text>
<polyline points="458.30,628.10 515.10,673.70 571.90,692.70 628.60,708.00" fill="none" stroke="#666666" stroke-width="2.1" stroke-linejoin="round"/>
<polyline points="458.30,628.10 515.10,689.30 571.90,712.50 628.60,726.10" fill="none" stroke="#0c0ca6" stroke-width="2.1" stroke-linejoin="round"/>
<polyline points="458.30,628.10 515.10,684.20 571.90,703.50 628.60,712.60" fill="none" stroke="#e8474d" stroke-width="2.1" stroke-linejoin="round"/>
<rect x="511.30" y="669.90" width="7.60" height="7.60" fill="#666666"/>
<rect x="568.10" y="688.90" width="7.60" height="7.60" fill="#666666"/>
<rect x="624.80" y="704.20" width="7.60" height="7.60" fill="#666666"/>
<polygon points="515.10,684.30 520.10,689.30 515.10,694.30 510.10,689.30" fill="#0c0ca6"/>
<polygon points="571.90,707.50 576.90,712.50 571.90,717.50 566.90,712.50" fill="#0c0ca6"/>
<polygon points="628.60,721.10 633.60,726.10 628.60,731.10 623.60,726.10" fill="#0c0ca6"/>
<circle cx="515.10" cy="684.20" r="4.4" fill="#ee2a33"/>
<circle cx="571.90" cy="703.50" r="4.4" fill="#ee2a33"/>
<circle cx="628.60" cy="712.60" r="4.4" fill="#ee2a33"/>
<line x1="515.10" y1="662.40" x2="515.10" y2="683.70" stroke="#666666" stroke-width="2.3" />
<line x1="511.20" y1="662.40" x2="519.00" y2="662.40" stroke="#666666" stroke-width="2.5" />
<line x1="511.20" y1="683.70" x2="519.00" y2="683.70" stroke="#666666" stroke-width="2.5" />
<line x1="571.90" y1="684.20" x2="571.90" y2="697.80" stroke="#666666" stroke-width="2.3" />
<line x1="568.00" y1="684.20" x2="575.80" y2="684.20" stroke="#666666" stroke-width="2.5" />
<line x1="568.00" y1="697.80" x2="575.80" y2="697.80" stroke="#666666" stroke-width="2.5" />
<line x1="628.60" y1="700.30" x2="628.60" y2="716.00" stroke="#666666" stroke-width="2.3" />
<line x1="624.70" y1="700.30" x2="632.50" y2="700.30" stroke="#666666" stroke-width="2.5" />
<line x1="624.70" y1="716.00" x2="632.50" y2="716.00" stroke="#666666" stroke-width="2.5" />
<line x1="515.10" y1="685.00" x2="515.10" y2="693.60" stroke="#0c0ca6" stroke-width="2.3" />
<line x1="511.20" y1="685.00" x2="519.00" y2="685.00" stroke="#0c0ca6" stroke-width="2.5" />
<line x1="511.20" y1="693.60" x2="519.00" y2="693.60" stroke="#0c0ca6" stroke-width="2.5" />
<line x1="571.90" y1="709.00" x2="571.90" y2="715.40" stroke="#0c0ca6" stroke-width="2.3" />
<line x1="568.00" y1="709.00" x2="575.80" y2="709.00" stroke="#0c0ca6" stroke-width="2.5" />
<line x1="568.00" y1="715.40" x2="575.80" y2="715.40" stroke="#0c0ca6" stroke-width="2.5" />
<line x1="628.60" y1="723.30" x2="628.60" y2="729.50" stroke="#0c0ca6" stroke-width="2.3" />
<line x1="624.70" y1="723.30" x2="632.50" y2="723.30" stroke="#0c0ca6" stroke-width="2.5" />
<line x1="624.70" y1="729.50" x2="632.50" y2="729.50" stroke="#0c0ca6" stroke-width="2.5" />
<line x1="515.10" y1="678.00" x2="515.10" y2="690.70" stroke="#ef1c26" stroke-width="2.3" />
<line x1="511.20" y1="678.00" x2="519.00" y2="678.00" stroke="#ef1c26" stroke-width="2.5" />
<line x1="511.20" y1="690.70" x2="519.00" y2="690.70" stroke="#ef1c26" stroke-width="2.5" />
<line x1="571.90" y1="696.40" x2="571.90" y2="710.60" stroke="#ef1c26" stroke-width="2.3" />
<line x1="568.00" y1="696.40" x2="575.80" y2="696.40" stroke="#ef1c26" stroke-width="2.5" />
<line x1="568.00" y1="710.60" x2="575.80" y2="710.60" stroke="#ef1c26" stroke-width="2.5" />
<line x1="628.60" y1="701.60" x2="628.60" y2="723.30" stroke="#ef1c26" stroke-width="2.3" />
<line x1="624.70" y1="701.60" x2="632.50" y2="701.60" stroke="#ef1c26" stroke-width="2.5" />
<line x1="624.70" y1="723.30" x2="632.50" y2="723.30" stroke="#ef1c26" stroke-width="2.5" />
<rect x="454.35" y="624.15" width="7.9" height="7.9" fill="#ec3d46"/>
<line x1="628.80" y1="620.20" x2="645.20" y2="620.20" stroke="#e8474d" stroke-width="2" />
<circle cx="637.00" cy="620.20" r="4.4" fill="#ee2a33"/>
<text stroke="#000" stroke-width="0.3" x="654.40" y="624.50" font-size="12" text-anchor="start" fill="#000" font-weight="bold" >AsPC1</text>
<line x1="628.80" y1="638.80" x2="645.20" y2="638.80" stroke="#0c0ca6" stroke-width="2" />
<polygon points="637.00,633.80 642.00,638.80 637.00,643.80 632.00,638.80" fill="#0c0ca6"/>
<text stroke="#000" stroke-width="0.3" x="654.40" y="643.10" font-size="12" text-anchor="start" fill="#000" font-weight="bold" >CFPAC-1</text>
<line x1="628.80" y1="657.40" x2="645.20" y2="657.40" stroke="#666666" stroke-width="2" />
<rect x="633.20" y="653.60" width="7.60" height="7.60" fill="#666666"/>
<text stroke="#000" stroke-width="0.3" x="654.40" y="661.70" font-size="12" text-anchor="start" fill="#000" font-weight="bold" >HPAFII</text>
<text stroke="#000" stroke-width="0.3" x="544.00" y="597.20" font-size="14.9" text-anchor="middle" fill="#000" font-weight="bold" >MCI-715 dose response</text>
<text stroke="#000" stroke-width="0.3" x="544.00" y="612.80" font-size="14.9" text-anchor="middle" fill="#000" font-weight="bold" >soft agar assay</text>
<text stroke="#000" stroke-width="0.3" x="543.20" y="836.60" font-size="14.8" text-anchor="middle" fill="#000" font-weight="bold" >MCI-715 concentration [<tspan font-family="Liberation Serif" font-weight="normal">μ</tspan>M]</text>
<text stroke="#000" stroke-width="0.3" font-size="14.5" font-weight="bold" text-anchor="middle" transform="translate(378.5,701) rotate(-90)">Numebr of colonies</text>
<text stroke="#000" stroke-width="0.3" font-size="14.5" font-weight="bold" text-anchor="middle" transform="translate(396,701) rotate(-90)">(Fold change/control)</text>
<polygon points="510.65,637.10 511.34,638.75 513.12,638.90 511.76,640.06 512.18,641.80 510.65,640.87 509.12,641.80 509.54,640.06 508.18,638.90 509.96,638.75" fill="#ef1c26"/>
<polygon points="515.30,637.10 515.99,638.75 517.77,638.90 516.41,640.06 516.83,641.80 515.30,640.87 513.77,641.80 514.19,640.06 512.83,638.90 514.61,638.75" fill="#ef1c26"/>
<polygon points="519.95,637.10 520.64,638.75 522.42,638.90 521.06,640.06 521.48,641.80 519.95,640.87 518.42,641.80 518.84,640.06 517.48,638.90 519.26,638.75" fill="#ef1c26"/>
<polygon points="508.32,645.10 509.01,646.75 510.80,646.90 509.44,648.06 509.85,649.80 508.32,648.87 506.80,649.80 507.21,648.06 505.85,646.90 507.64,646.75" fill="#0c0ca6"/>
<polygon points="512.97,645.10 513.66,646.75 515.45,646.90 514.09,648.06 514.50,649.80 512.97,648.87 511.45,649.80 511.86,648.06 510.50,646.90 512.29,646.75" fill="#0c0ca6"/>
<polygon points="517.62,645.10 518.31,646.75 520.10,646.90 518.74,648.06 519.15,649.80 517.62,648.87 516.10,649.80 516.51,648.06 515.15,646.90 516.94,646.75" fill="#0c0ca6"/>
<polygon points="522.27,645.10 522.96,646.75 524.75,646.90 523.39,648.06 523.80,649.80 522.27,648.87 520.75,649.80 521.16,648.06 519.80,646.90 521.59,646.75" fill="#0c0ca6"/>
<polygon points="512.97,652.70 513.66,654.35 515.45,654.50 514.09,655.66 514.50,657.40 512.97,656.47 511.45,657.40 511.86,655.66 510.50,654.50 512.29,654.35" fill="#666666"/>
<polygon points="517.62,652.70 518.31,654.35 520.10,654.50 518.74,655.66 519.15,657.40 517.62,656.47 516.10,657.40 516.51,655.66 515.15,654.50 516.94,654.35" fill="#666666"/>
<polygon points="565.02,658.40 565.71,660.05 567.50,660.20 566.14,661.36 566.55,663.10 565.02,662.17 563.50,663.10 563.91,661.36 562.55,660.20 564.34,660.05" fill="#ef1c26"/>
<polygon points="569.67,658.40 570.36,660.05 572.15,660.20 570.79,661.36 571.20,663.10 569.67,662.17 568.15,663.10 568.56,661.36 567.20,660.20 568.99,660.05" fill="#ef1c26"/>
<polygon points="574.32,658.40 575.01,660.05 576.80,660.20 575.44,661.36 575.85,663.10 574.32,662.17 572.80,663.10 573.21,661.36 571.85,660.20 573.64,660.05" fill="#ef1c26"/>
<polygon points="578.98,658.40 579.66,660.05 581.45,660.20 580.09,661.36 580.50,663.10 578.98,662.17 577.45,663.10 577.86,661.36 576.50,660.20 578.29,660.05" fill="#ef1c26"/>
<polygon points="565.02,665.80 565.71,667.45 567.50,667.60 566.14,668.76 566.55,670.50 565.02,669.57 563.50,670.50 563.91,668.76 562.55,667.60 564.34,667.45" fill="#0c0ca6"/>
<polygon points="569.67,665.80 570.36,667.45 572.15,667.60 570.79,668.76 571.20,670.50 569.67,669.57 568.15,670.50 568.56,668.76 567.20,667.60 568.99,667.45" fill="#0c0ca6"/>
<polygon points="574.32,665.80 575.01,667.45 576.80,667.60 575.44,668.76 575.85,670.50 574.32,669.57 572.80,670.50 573.21,668.76 571.85,667.60 573.64,667.45" fill="#0c0ca6"/>
<polygon points="578.98,665.80 579.66,667.45 581.45,667.60 580.09,668.76 580.50,670.50 578.98,669.57 577.45,670.50 577.86,668.76 576.50,667.60 578.29,667.45" fill="#0c0ca6"/>
<polygon points="565.02,673.40 565.71,675.05 567.50,675.20 566.14,676.36 566.55,678.10 565.02,677.17 563.50,678.10 563.91,676.36 562.55,675.20 564.34,675.05" fill="#666666"/>
<polygon points="569.67,673.40 570.36,675.05 572.15,675.20 570.79,676.36 571.20,678.10 569.67,677.17 568.15,678.10 568.56,676.36 567.20,675.20 568.99,675.05" fill="#666666"/>
<polygon points="574.32,673.40 575.01,675.05 576.80,675.20 575.44,676.36 575.85,678.10 574.32,677.17 572.80,678.10 573.21,676.36 571.85,675.20 573.64,675.05" fill="#666666"/>
<polygon points="578.98,673.40 579.66,675.05 581.45,675.20 580.09,676.36 580.50,678.10 578.98,677.17 577.45,678.10 577.86,676.36 576.50,675.20 578.29,675.05" fill="#666666"/>
<polygon points="621.82,675.40 622.51,677.05 624.30,677.20 622.94,678.36 623.35,680.10 621.82,679.17 620.30,680.10 620.71,678.36 619.35,677.20 621.14,677.05" fill="#ef1c26"/>
<polygon points="626.47,675.40 627.16,677.05 628.95,677.20 627.59,678.36 628.00,680.10 626.47,679.17 624.95,680.10 625.36,678.36 624.00,677.20 625.79,677.05" fill="#ef1c26"/>
<polygon points="631.12,675.40 631.81,677.05 633.60,677.20 632.24,678.36 632.65,680.10 631.12,679.17 629.60,680.10 630.01,678.36 628.65,677.20 630.44,677.05" fill="#ef1c26"/>
<polygon points="635.77,675.40 636.46,677.05 638.25,677.20 636.89,678.36 637.30,680.10 635.77,679.17 634.25,680.10 634.66,678.36 633.30,677.20 635.09,677.05" fill="#ef1c26"/>
<polygon points="621.82,683.00 622.51,684.65 624.30,684.80 622.94,685.96 623.35,687.70 621.82,686.77 620.30,687.70 620.71,685.96 619.35,684.80 621.14,684.65" fill="#0c0ca6"/>
<polygon points="626.47,683.00 627.16,684.65 628.95,684.80 627.59,685.96 628.00,687.70 626.47,686.77 624.95,687.70 625.36,685.96 624.00,684.80 625.79,684.65" fill="#0c0ca6"/>
<polygon points="631.12,683.00 631.81,684.65 633.60,684.80 632.24,685.96 632.65,687.70 631.12,686.77 629.60,687.70 630.01,685.96 628.65,684.80 630.44,684.65" fill="#0c0ca6"/>
<polygon points="635.77,683.00 636.46,684.65 638.25,684.80 636.89,685.96 637.30,687.70 635.77,686.77 634.25,687.70 634.66,685.96 633.30,684.80 635.09,684.65" fill="#0c0ca6"/>
<polygon points="621.82,690.40 622.51,692.05 624.30,692.20 622.94,693.36 623.35,695.10 621.82,694.17 620.30,695.10 620.71,693.36 619.35,692.20 621.14,692.05" fill="#666666"/>
<polygon points="626.47,690.40 627.16,692.05 628.95,692.20 627.59,693.36 628.00,695.10 626.47,694.17 624.95,695.10 625.36,693.36 624.00,692.20 625.79,692.05" fill="#666666"/>
<polygon points="631.12,690.40 631.81,692.05 633.60,692.20 632.24,693.36 632.65,695.10 631.12,694.17 629.60,695.10 630.01,693.36 628.65,692.20 630.44,692.05" fill="#666666"/>
<polygon points="635.77,690.40 636.46,692.05 638.25,692.20 636.89,693.36 637.30,695.10 635.77,694.17 634.25,695.10 634.66,693.36 633.30,692.20 635.09,692.05" fill="#666666"/>
</svg>
</body></html>
